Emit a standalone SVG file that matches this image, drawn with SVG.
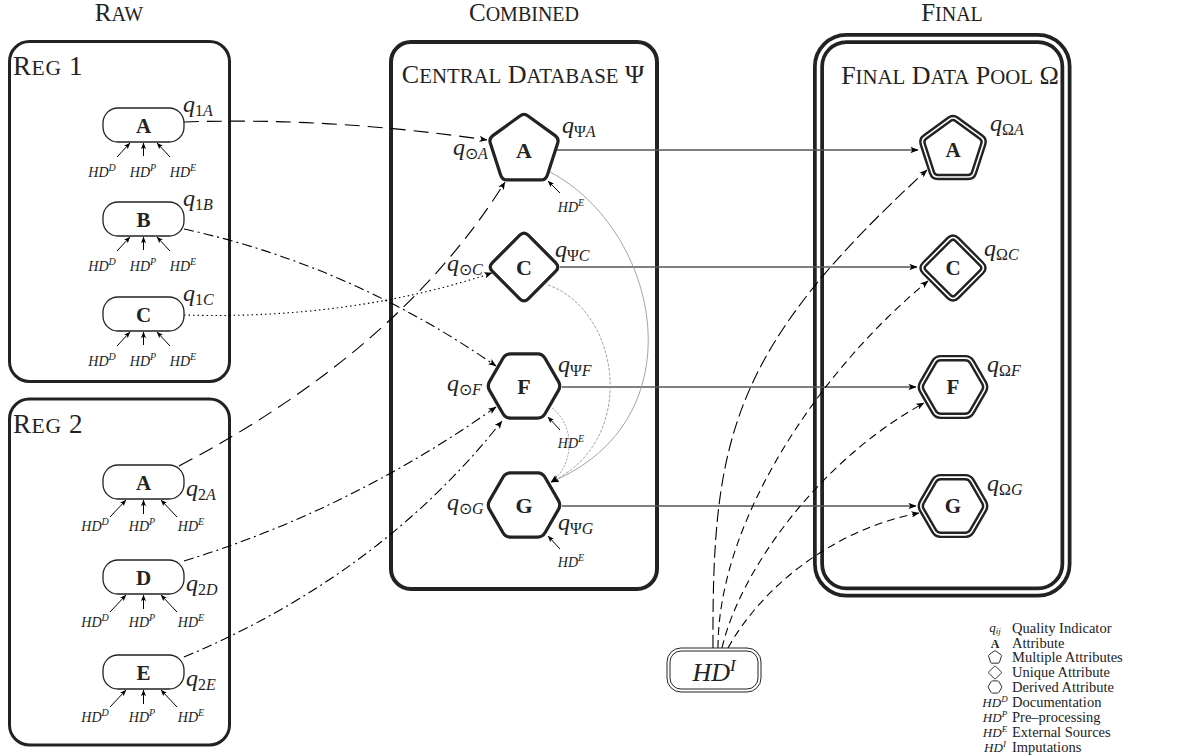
<svg xmlns="http://www.w3.org/2000/svg" width="1182" height="756" viewBox="0 0 1182 756">
<style>
text{font-family:"Liberation Serif","Times New Roman",serif;fill:#222}
.ttl{font-size:26px}
.reg{font-size:27px;letter-spacing:0.6px}
.col{font-size:25px;text-anchor:middle}
.sc{font-size:0.8em}
.nl{font-size:21px;font-weight:bold;text-anchor:middle}
.nlc{font-size:22px;font-weight:bold;text-anchor:middle}
.q{font-size:24px;font-style:italic}
.sub{font-size:16px}
.up{font-style:normal}
.hd{font-size:14px;font-style:italic;text-anchor:middle}
.sup{font-size:10px}
.box{fill:none;stroke:#222;stroke-width:3}
.cbox{fill:none;stroke:#222;stroke-width:4}
.rn{fill:#fff;stroke:#222;stroke-width:1.3}
.cn{fill:#fff;stroke:#222;stroke-width:3.2;stroke-linejoin:round}
.fo{fill:#fff;stroke:#222;stroke-width:7.2;stroke-linejoin:round}
.fi{fill:none;stroke:#fff;stroke-width:1.8;stroke-linejoin:round}
.lg{fill:none;stroke:#222;stroke-width:5}
.hda{stroke:#000;stroke-width:1;marker-end:url(#as)}
.c{fill:none;stroke:#000;stroke-width:1.1;marker-end:url(#ah)}
.ld{stroke-dasharray:15,8}
.dd{stroke-dasharray:10,4,2,4}
.dt{stroke-dasharray:1.5,3}
.sd{stroke-dasharray:8,5}
.h{fill:none;stroke:#555;stroke-width:1.3;marker-end:url(#ah)}
.g{fill:none;stroke:#999;stroke-width:0.9;marker-end:url(#ah)}
.leg{font-size:14.5px}
.ls{font-size:13px;font-style:italic;text-anchor:middle}
</style>
<defs>
<marker id="ah" viewBox="0 0 10 8" refX="9.5" refY="4" markerWidth="8" markerHeight="6.4" markerUnits="userSpaceOnUse" orient="auto"><path d="M0,0 L10,4 L0,8 L2.5,4 Z" fill="#000" stroke="none"/></marker>
<marker id="as" viewBox="0 0 10 8" refX="9.5" refY="4" markerWidth="6.5" markerHeight="5.2" markerUnits="userSpaceOnUse" orient="auto"><path d="M0,0 L10,4 L0,8 L2.5,4 Z" fill="#000" stroke="none"/></marker>
<path id="pent" d="M4.05,-34.06 L31.14,-14.37 Q35.19,-11.43 33.64,-6.67 L23.3,25.17 Q21.75,29.93 16.75,29.93 L-16.75,29.93 Q-21.75,29.93 -23.3,25.17 L-33.64,-6.67 Q-35.19,-11.43 -31.14,-14.37 L-4.05,-34.06 Q0,-37 4.05,-34.06 Z"/>
<path id="diam" d="M4.24,-31.76 L31.76,-4.24 Q36,0 31.76,4.24 L4.24,31.76 Q0,36 -4.24,31.76 L-31.76,4.24 Q-36,0 -31.76,-4.24 L-4.24,-31.76 Q0,-36 4.24,-31.76 Z"/>
<path id="hex" d="M-13.5,-32.04 L13.5,-32.04 Q18.5,-32.04 21,-27.71 L34.5,-4.33 Q37,0 34.5,4.33 L21,27.71 Q18.5,32.04 13.5,32.04 L-13.5,32.04 Q-18.5,32.04 -21,27.71 L-34.5,4.33 Q-37,0 -34.5,-4.33 L-21,-27.71 Q-18.5,-32.04 -13.5,-32.04 Z"/>
</defs>

<rect width="1182" height="756" fill="#fff"/>

<!-- column titles -->
<text class="col" x="119" y="21">R<tspan class="sc">AW</tspan></text>
<text class="col" x="524" y="21">C<tspan class="sc">OMBINED</tspan></text>
<text class="col" x="952" y="21">F<tspan class="sc">INAL</tspan></text>

<!-- containers -->
<g id="reg1">
<rect class="box" x="9.5" y="41.5" width="220" height="340" rx="20"/>
<text class="reg" x="13" y="75">R<tspan class="sc">EG</tspan> 1</text>
</g>
<g id="reg2">
<rect class="box" x="9.5" y="399" width="220" height="346" rx="20"/>
<text class="reg" x="13" y="433">R<tspan class="sc">EG</tspan> 2</text>
</g>
<g id="central">
<rect class="cbox" x="391" y="42" width="266" height="547" rx="20"/>
<text class="ttl" x="523" y="83" text-anchor="middle">C<tspan class="sc">ENTRAL</tspan> D<tspan class="sc">ATABASE</tspan> Ψ</text>
</g>
<g id="final">
<rect x="818.5" y="38.5" width="247.5" height="553.5" rx="28" fill="none" stroke="#222" stroke-width="11"/>
<rect x="818.5" y="38.5" width="247.5" height="553.5" rx="28" fill="none" stroke="#fff" stroke-width="3.5"/>
<text class="ttl" x="950" y="84" text-anchor="middle">F<tspan class="sc">INAL</tspan> D<tspan class="sc">ATA</tspan> P<tspan class="sc">OOL</tspan> Ω</text>
</g>

<!-- connectors -->
<g id="connectors">
<path class="c ld" d="M184,122 Q330,117 487,140"/>
<path class="c dd" d="M184,229 Q350,265 496,366"/>
<path class="c dt" d="M184,315 Q350,320 492,273"/>
<path class="c ld" d="M179,466 Q400,350 505,182"/>
<path class="c dd" d="M184,561 Q350,510 496,407"/>
<path class="c dd" d="M184,657 Q380,575 502,421"/>
<path class="h" d="M556,150 H918"/>
<path class="h" d="M560,267 H917"/>
<path class="h" d="M562,387 H916"/>
<path class="h" d="M562,506 H916"/>
<path class="g" d="M550,172 C660,230 700,420 551,482"/>
<path class="g" stroke-dasharray="3,1.5" d="M548,285 C620,310 640,440 551,482"/>
<path class="g" stroke-dasharray="2,1.5" d="M552,408 C575,425 575,465 551,482"/>
<path class="c" stroke-dasharray="13,5" d="M713,648 C712,440 730,350 927,170"/>
<path class="c sd" d="M718,648 C718,520 820,370 928,281"/>
<path class="c sd" d="M722,648 C740,570 820,460 924,403"/>
<path class="c sd" d="M728,648 C760,590 830,530 919,513"/>
</g>

<!-- raw nodes -->
<g id="r1a">
<rect class="rn" x="103" y="108" width="81" height="34" rx="15"/>
<text class="nl" x="143.5" y="133">A</text>
<text class="q" x="183" y="112">q<tspan class="sub" dy="4"><tspan class="up">1</tspan>A</tspan></text>
<line class="hda" x1="117" y1="157" x2="130" y2="143"/>
<line class="hda" x1="143.5" y1="156" x2="143.5" y2="143"/>
<line class="hda" x1="170" y1="157" x2="157" y2="143"/>
<text class="hd" x="102" y="177">HD<tspan class="sup" dy="-6">D</tspan></text>
<text class="hd" x="143" y="177">HD<tspan class="sup" dy="-6">P</tspan></text>
<text class="hd" x="183" y="177">HD<tspan class="sup" dy="-6">E</tspan></text>
</g>
<g id="r1b">
<rect class="rn" x="103" y="202" width="81" height="34" rx="15"/>
<text class="nl" x="143.5" y="227">B</text>
<text class="q" x="183" y="206">q<tspan class="sub" dy="4"><tspan class="up">1</tspan>B</tspan></text>
<line class="hda" x1="117" y1="251" x2="130" y2="237"/>
<line class="hda" x1="143.5" y1="250" x2="143.5" y2="237"/>
<line class="hda" x1="170" y1="251" x2="157" y2="237"/>
<text class="hd" x="102" y="271">HD<tspan class="sup" dy="-6">D</tspan></text>
<text class="hd" x="143" y="271">HD<tspan class="sup" dy="-6">P</tspan></text>
<text class="hd" x="183" y="271">HD<tspan class="sup" dy="-6">E</tspan></text>
</g>
<g id="r1c">
<rect class="rn" x="103" y="297" width="81" height="34" rx="15"/>
<text class="nl" x="143.5" y="322">C</text>
<text class="q" x="183" y="301">q<tspan class="sub" dy="4"><tspan class="up">1</tspan>C</tspan></text>
<line class="hda" x1="117" y1="346" x2="130" y2="332"/>
<line class="hda" x1="143.5" y1="345" x2="143.5" y2="332"/>
<line class="hda" x1="170" y1="346" x2="157" y2="332"/>
<text class="hd" x="102" y="366">HD<tspan class="sup" dy="-6">D</tspan></text>
<text class="hd" x="143" y="366">HD<tspan class="sup" dy="-6">P</tspan></text>
<text class="hd" x="183" y="366">HD<tspan class="sup" dy="-6">E</tspan></text>
</g>
<g id="r2a">
<rect class="rn" x="103" y="465" width="81" height="34" rx="15"/>
<text class="nl" x="143.5" y="490">A</text>
<text class="q" x="186" y="496">q<tspan class="sub" dy="4"><tspan class="up">2</tspan>A</tspan></text>
<line class="hda" x1="110" y1="517" x2="126" y2="500"/>
<line class="hda" x1="143.5" y1="514" x2="143.5" y2="500"/>
<line class="hda" x1="177" y1="517" x2="161" y2="500"/>
<text class="hd" x="95" y="531">HD<tspan class="sup" dy="-6">D</tspan></text>
<text class="hd" x="142" y="531">HD<tspan class="sup" dy="-6">P</tspan></text>
<text class="hd" x="191" y="531">HD<tspan class="sup" dy="-6">E</tspan></text>
</g>
<g id="r2d">
<rect class="rn" x="103" y="560" width="81" height="34" rx="15"/>
<text class="nl" x="143.5" y="585">D</text>
<text class="q" x="186" y="591">q<tspan class="sub" dy="4"><tspan class="up">2</tspan>D</tspan></text>
<line class="hda" x1="110" y1="612" x2="126" y2="595"/>
<line class="hda" x1="143.5" y1="609" x2="143.5" y2="595"/>
<line class="hda" x1="177" y1="612" x2="161" y2="595"/>
<text class="hd" x="95" y="627">HD<tspan class="sup" dy="-6">D</tspan></text>
<text class="hd" x="142" y="627">HD<tspan class="sup" dy="-6">P</tspan></text>
<text class="hd" x="191" y="627">HD<tspan class="sup" dy="-6">E</tspan></text>
</g>
<g id="r2e">
<rect class="rn" x="103" y="655" width="81" height="34" rx="15"/>
<text class="nl" x="143.5" y="680">E</text>
<text class="q" x="186" y="686">q<tspan class="sub" dy="4"><tspan class="up">2</tspan>E</tspan></text>
<line class="hda" x1="110" y1="707" x2="126" y2="690"/>
<line class="hda" x1="143.5" y1="704" x2="143.5" y2="690"/>
<line class="hda" x1="177" y1="707" x2="161" y2="690"/>
<text class="hd" x="95" y="722">HD<tspan class="sup" dy="-6">D</tspan></text>
<text class="hd" x="142" y="722">HD<tspan class="sup" dy="-6">P</tspan></text>
<text class="hd" x="191" y="722">HD<tspan class="sup" dy="-6">E</tspan></text>
</g>

<!-- central nodes -->
<g id="ca">
<use href="#pent" class="cn" transform="translate(524,150)"/>
<text class="nlc" x="524" y="158">A</text>
<text class="q" x="562" y="133">q<tspan class="sub" dy="4"><tspan class="up">Ψ</tspan>A</tspan></text>
<text class="q" x="453" y="155">q<tspan class="sub" dy="4"><tspan class="up">⊙</tspan>A</tspan></text>
<line class="hda" x1="560" y1="193" x2="548" y2="181"/>
<text class="hd" x="571" y="212">HD<tspan class="sup" dy="-6">E</tspan></text>
</g>
<g id="cc">
<use href="#diam" class="cn" transform="translate(524,267)"/>
<text class="nlc" x="524" y="275">C</text>
<text class="q" x="555" y="257">q<tspan class="sub" dy="4"><tspan class="up">Ψ</tspan>C</tspan></text>
<text class="q" x="447" y="271">q<tspan class="sub" dy="4"><tspan class="up">⊙</tspan>C</tspan></text>
</g>
<g id="cf">
<use href="#hex" class="cn" transform="translate(524,386)"/>
<text class="nlc" x="524" y="394">F</text>
<text class="q" x="558" y="372">q<tspan class="sub" dy="4"><tspan class="up">Ψ</tspan>F</tspan></text>
<text class="q" x="447" y="391">q<tspan class="sub" dy="4"><tspan class="up">⊙</tspan>F</tspan></text>
<line class="hda" x1="560" y1="430" x2="548" y2="417"/>
<text class="hd" x="571" y="448">HD<tspan class="sup" dy="-6">E</tspan></text>
</g>
<g id="cg">
<use href="#hex" class="cn" transform="translate(524,505)"/>
<text class="nlc" x="524" y="513">G</text>
<text class="q" x="558" y="530">q<tspan class="sub" dy="4"><tspan class="up">Ψ</tspan>G</tspan></text>
<text class="q" x="447" y="510">q<tspan class="sub" dy="4"><tspan class="up">⊙</tspan>G</tspan></text>
<line class="hda" x1="560" y1="549" x2="548" y2="536"/>
<text class="hd" x="571" y="567">HD<tspan class="sup" dy="-6">E</tspan></text>
</g>

<!-- final nodes -->
<g id="fa">
<use href="#pent" class="fo" transform="translate(953,150) scale(0.9)"/>
<use href="#pent" class="fi" transform="translate(953,150) scale(0.9)"/>
<text class="nl" x="953" y="157">A</text>
<text class="q" x="990" y="131">q<tspan class="sub" dy="4"><tspan class="up">Ω</tspan>A</tspan></text>
</g>
<g id="fc">
<use href="#diam" class="fo" transform="translate(953,268) scale(0.9)"/>
<use href="#diam" class="fi" transform="translate(953,268) scale(0.9)"/>
<text class="nl" x="953" y="275">C</text>
<text class="q" x="984" y="256">q<tspan class="sub" dy="4"><tspan class="up">Ω</tspan>C</tspan></text>
</g>
<g id="ff">
<use href="#hex" class="fo" transform="translate(953,387) scale(0.9)"/>
<use href="#hex" class="fi" transform="translate(953,387) scale(0.9)"/>
<text class="nl" x="953" y="394">F</text>
<text class="q" x="987" y="372">q<tspan class="sub" dy="4"><tspan class="up">Ω</tspan>F</tspan></text>
</g>
<g id="fg">
<use href="#hex" class="fo" transform="translate(953,506) scale(0.9)"/>
<use href="#hex" class="fi" transform="translate(953,506) scale(0.9)"/>
<text class="nl" x="953" y="513">G</text>
<text class="q" x="987" y="491">q<tspan class="sub" dy="4"><tspan class="up">Ω</tspan>G</tspan></text>
</g>

<!-- imputations source -->
<g id="hdi">
<rect x="667" y="648" width="94" height="44" rx="14" fill="#fff" stroke="#222" stroke-width="1"/>
<rect x="670" y="651" width="88" height="38" rx="11" fill="none" stroke="#222" stroke-width="1"/>
<text x="714" y="681" text-anchor="middle" font-size="26" font-style="italic">HD<tspan font-size="17" dy="-10">I</tspan></text>
</g>

<!-- legend -->
<g id="legend">
<text class="ls" x="995" y="632">q<tspan font-size="9" dy="2">ij</tspan></text>
<text class="leg" x="1012" y="633">Quality Indicator</text>
<text x="995" y="647.5" text-anchor="middle" font-size="12" font-weight="bold">A</text>
<text class="leg" x="1012" y="647.5">Attribute</text>
<use href="#pent" class="lg" transform="translate(995,657.5) scale(0.19)"/>
<text class="leg" x="1012" y="662">Multiple Attributes</text>
<use href="#diam" class="lg" transform="translate(995,672.5) scale(0.19)"/>
<text class="leg" x="1012" y="677">Unique Attribute</text>
<use href="#hex" class="lg" transform="translate(995,687) scale(0.19)"/>
<text class="leg" x="1012" y="692">Derived Attribute</text>
<text class="ls" x="995" y="707">HD<tspan font-size="9" dy="-5">D</tspan></text>
<text class="leg" x="1012" y="707">Documentation</text>
<text class="ls" x="995" y="722">HD<tspan font-size="9" dy="-5">P</tspan></text>
<text class="leg" x="1012" y="721.5">Pre–processing</text>
<text class="ls" x="995" y="737">HD<tspan font-size="9" dy="-5">E</tspan></text>
<text class="leg" x="1012" y="737">External Sources</text>
<text class="ls" x="995" y="752">HD<tspan font-size="9" dy="-5">I</tspan></text>
<text class="leg" x="1012" y="752">Imputations</text>
</g>
</svg>
